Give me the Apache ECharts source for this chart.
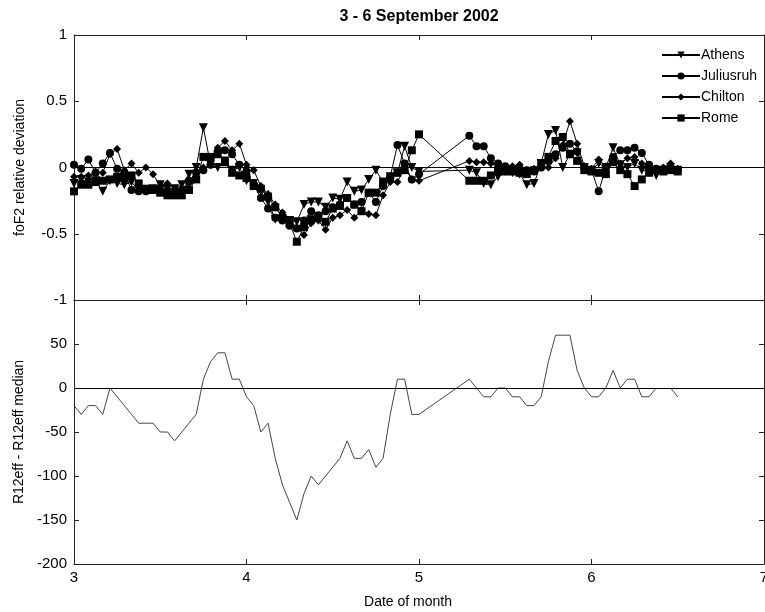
<!DOCTYPE html>
<html><head><meta charset="utf-8">
<script src="https://cdn.jsdelivr.net/npm/echarts@6/dist/echarts.min.js"></script>
<style>html,body{margin:0;padding:0;background:#fff;overflow:hidden}#c{width:765px;height:612px}</style>
</head><body><div id="c"></div>
<script>
// hours after 3 Sept 00 UT (hourly values; 49-54 absent)
const hoursTop = [0,1,2,3,4,5,6,7,8,9,10,11,12,13,14,15,16,17,18,19,20,21,22,23,24,25,26,27,28,29,30,31,32,33,34,35,36,37,38,39,40,41,42,43,44,45,46,47,48,
  55,56,57,58,59,60,61,62,63,64,65,66,67,68,69,70,71,72,73,74,75,76,77,78,79,80,81,82,83,84];
const athens = [-0.12,-0.09,-0.11,-0.10,-0.18,-0.10,-0.12,-0.13,-0.11,-0.17,
  -0.18,-0.16,-0.13,-0.16,-0.16,-0.13,-0.05,0.00,0.30,0.02,
  0.00,0.05,-0.02,0.00,-0.10,-0.12,-0.18,-0.26,-0.39,-0.39,
  -0.40,-0.41,-0.28,-0.26,-0.26,-0.30,-0.23,-0.24,-0.11,-0.18,
  -0.17,-0.09,-0.02,-0.11,-0.07,-0.04,0.16,0.00,-0.03,
  -0.02,-0.04,-0.12,-0.13,-0.07,-0.03,-0.04,-0.05,-0.13,-0.12,
  0.03,0.25,0.28,0.00,0.10,0.11,0.00,-0.02,0.03,0.00,
  0.15,0.02,0.00,0.03,-0.02,-0.03,-0.06,-0.02,0.00,-0.02];
const juliusruh = [0.02,-0.01,0.06,-0.04,0.03,0.11,-0.01,-0.04,-0.17,-0.18,
  -0.18,-0.17,-0.17,-0.18,-0.19,-0.17,-0.10,-0.04,-0.02,0.02,
  0.12,0.13,0.10,0.02,-0.03,-0.13,-0.23,-0.31,-0.38,-0.40,
  -0.44,-0.46,-0.40,-0.33,-0.36,-0.33,-0.30,-0.28,-0.23,-0.28,
  -0.26,-0.19,-0.26,-0.14,-0.07,0.17,0.03,-0.09,-0.05,
  0.24,0.16,0.16,0.07,0.03,0.01,-0.01,-0.01,-0.02,-0.03,
  0.00,0.05,0.10,0.15,0.18,0.12,0.00,-0.02,-0.18,0.00,
  0.08,0.13,0.13,0.15,0.11,0.02,-0.01,-0.02,-0.01,-0.02];
const chilton = [-0.07,-0.07,-0.06,-0.03,-0.04,0.10,0.14,-0.02,0.03,-0.04,
  0.00,-0.05,-0.14,-0.12,-0.16,-0.16,-0.12,-0.04,0.00,0.02,
  0.15,0.20,0.13,0.18,0.02,-0.02,-0.14,-0.20,-0.28,-0.34,
  -0.40,-0.45,-0.51,-0.42,-0.40,-0.47,-0.38,-0.36,-0.32,-0.38,
  -0.32,-0.35,-0.36,-0.21,-0.11,-0.11,0.00,-0.09,-0.10,
  0.05,0.04,0.04,0.03,0.01,0.00,0.01,0.02,-0.02,-0.01,
  0.00,0.00,0.07,0.17,0.35,0.18,0.01,-0.01,0.06,0.01,
  0.04,0.03,0.07,0.08,0.03,0.00,-0.01,0.00,0.03,-0.01];
const rome = [-0.18,-0.13,-0.13,-0.11,-0.10,-0.09,-0.07,-0.08,-0.06,-0.12,
  -0.16,-0.17,-0.19,-0.21,-0.21,-0.21,-0.17,-0.09,0.08,0.08,
  0.10,0.04,-0.04,-0.06,-0.08,-0.14,-0.16,-0.22,-0.30,-0.38,
  -0.42,-0.56,-0.45,-0.39,-0.37,-0.41,-0.31,-0.29,-0.23,-0.28,
  -0.33,-0.19,-0.19,-0.12,-0.08,-0.04,-0.02,0.13,0.25,
  -0.10,-0.10,-0.10,-0.06,-0.03,-0.03,-0.03,-0.04,-0.05,-0.02,
  0.03,0.08,0.20,0.23,0.10,0.05,-0.02,-0.03,-0.04,-0.05,
  0.04,-0.02,-0.05,-0.14,-0.09,-0.04,-0.02,-0.03,-0.02,-0.03];
const hoursR12 = hoursTop;
const r12 = [-20,-30,-20,-20,-30,0,-10,-20,-30,-40,
  -40,-40,-50,-50,-60,-50,-40,-30,10,30,
  40,40,10,10,-10,-20,-50,-40,-80,-110,
  -130,-150,-120,-100,-110,-100,-90,-80,-60,-80,
  -80,-70,-90,-80,-30,10,10,-30,-30,
  10,0,-10,-10,0,0,-10,-10,-20,-20,
  -10,30,60,60,60,20,0,-10,-10,0,
  20,0,10,10,-10,-10,0,null,0,-10];
const startDay = 3;
const xMin = 3, xMax = 7, xStep = 1;
const topTicks = {min: -1, max: 1, interval: 0.5};
const botTicks = {min: -200, max: 100, interval: 50};

function pairs(hours, vals) {
  return hours.map((h, i) => [startDay + h / 24, vals[i]]);
}

const FONT = 'Liberation Sans, Arial, sans-serif';
const axLine = {show: true, onZero: false, lineStyle: {color: '#222', width: 1}};
const tickIn = {show: true, inside: true, length: 5, lineStyle: {color: '#222'}};

function xAx(grid, pos, labels, name) {
  return {
    type: 'value', gridIndex: grid, position: pos, min: xMin, max: xMax, interval: xStep,
    axisLine: axLine, axisTick: tickIn, splitLine: {show: false},
    axisLabel: {show: labels, color: '#000', fontSize: 15, fontFamily: FONT, margin: 6},
    name: name || '', nameLocation: 'middle', nameGap: 31,
    nameTextStyle: {color: '#000', fontSize: 14, fontFamily: FONT, padding: [0, 22, 0, 0]}
  };
}
function yAx(grid, pos, labels, t, name, gap, fmt) {
  return {
    type: 'value', gridIndex: grid, position: pos, min: t.min, max: t.max, interval: t.interval,
    axisLine: axLine, axisTick: tickIn, splitLine: {show: false},
    axisLabel: {show: labels, color: '#000', fontSize: 15, fontFamily: FONT, margin: 7, formatter: fmt},
    name: name || '', nameLocation: 'middle', nameGap: gap || 0,
    nameTextStyle: {color: '#000', fontSize: 14, fontFamily: FONT}
  };
}

const zeroLine = {
  silent: true, symbol: ['none', 'none'], label: {show: false},
  lineStyle: {color: '#000', width: 1, type: 'solid'}, data: [{yAxis: 0}]
};

function stationSeries(name, vals, symbol, size, rotate) {
  return {
    name, type: 'line', xAxisIndex: 0, yAxisIndex: 0, data: pairs(hoursTop, vals),
    symbol, symbolSize: size, symbolRotate: rotate || 0, showSymbol: true,
    lineStyle: {color: '#000', width: 1}, itemStyle: {color: '#000'}
  };
}

const series = [
  Object.assign(stationSeries('Athens', athens, 'triangle', 9, 180), {markLine: zeroLine}),
  stationSeries('Juliusruh', juliusruh, 'circle', 8),
  stationSeries('Chilton', chilton, 'diamond', 8),
  stationSeries('Rome', rome, 'rect', 8),
  {
    name: 'R12', type: 'line', xAxisIndex: 2, yAxisIndex: 2, data: pairs(hoursR12, r12),
    showSymbol: false, symbol: 'none', connectNulls: false,
    lineStyle: {color: '#444', width: 1}, itemStyle: {color: '#444'}, markLine: zeroLine
  }
];

const chart = echarts.init(document.getElementById('c'), null, {renderer: 'canvas'});
chart.setOption({
  animation: false,
  backgroundColor: '#fff',
  grid: [
    {left: 74, right: 1, top: 35, height: 265, outerBoundsMode: 'none', containLabel: false},
    {left: 74, right: 1, top: 300, height: 264, outerBoundsMode: 'none', containLabel: false}
  ],
  xAxis: [
    xAx(0, 'bottom', false), xAx(0, 'top', false),
    xAx(1, 'bottom', true, 'Date of month'), xAx(1, 'top', false)
  ],
  yAxis: [
    yAx(0, 'left', true, topTicks, 'foF2 relative deviation', 47),
    yAx(0, 'right', false, topTicks),
    yAx(1, 'left', true, botTicks, 'R12eff - R12eff median', 41, v => (v === botTicks.max ? '' : String(v))),
    yAx(1, 'right', false, botTicks)
  ],
  legend: {
    data: ['Athens', 'Juliusruh', 'Chilton', 'Rome'],
    orient: 'vertical', left: 656, top: 43, itemWidth: 38, itemHeight: 9, itemGap: 7,
    textStyle: {color: '#000', fontSize: 14, fontFamily: FONT, padding: [0, 0, 0, -4]}
  },
  graphic: [{
    type: 'text', x: 419, y: 17,
    style: {text: '3 - 6 September 2002', textAlign: 'center', textVerticalAlign: 'middle',
      font: 'bold 16px ' + FONT, fill: '#000'}
  }],
  series
});
</script></body></html>
